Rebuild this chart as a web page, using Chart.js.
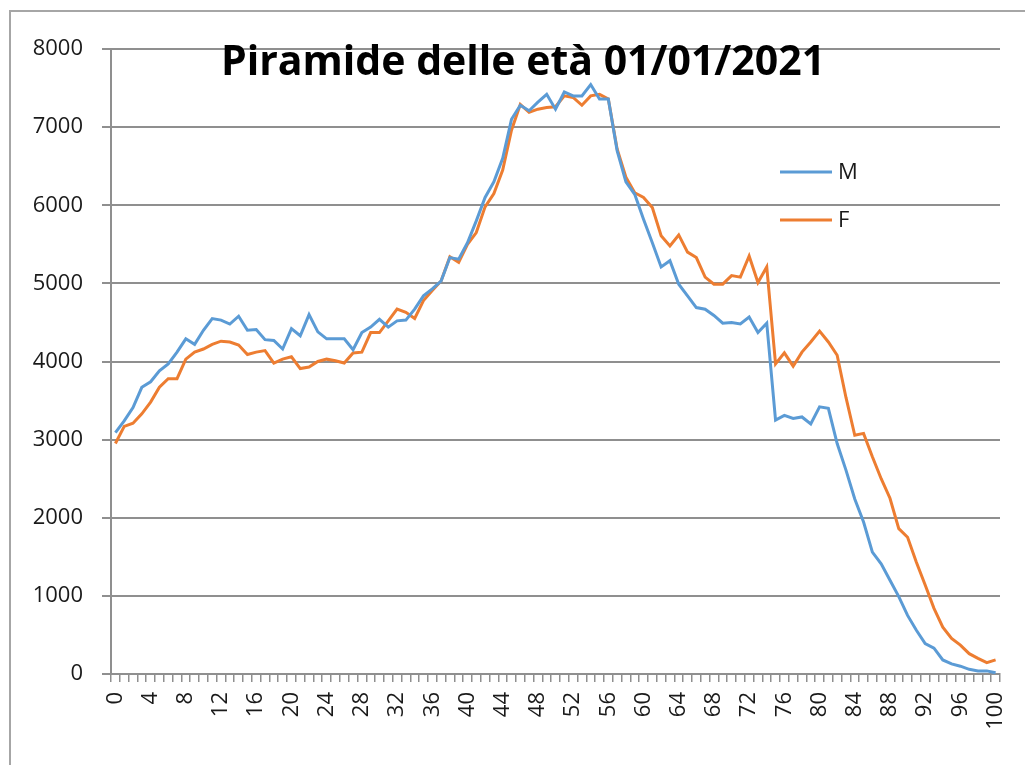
<!DOCTYPE html>
<html>
<head>
<meta charset="utf-8">
<script src="https://cdn.jsdelivr.net/npm/chart.js@4.4.1/dist/chart.umd.min.js"></script>
<style>
  html, body { margin: 0; padding: 0; background: #fff; overflow: hidden; }
  #wrap { position: relative; width: 1025px; height: 765px; }
  #frame { position: absolute; left: 9px; top: 10px; width: 1200px; height: 900px; border: 2px solid #a6a6a6; box-sizing: border-box; }
  canvas { position: absolute; left: 0; top: 0; }
</style>
</head>
<body>
<div id="wrap">
  <div id="frame"></div>
  <canvas id="c" width="1025" height="765"></canvas>
</div>
<script>
const chartTitle = "Piramide delle età 01/01/2021";
const ages = Array.from({length: 101}, (_, i) => String(i));
const seriesNames = ["M", "F"];
const maschi = [
  3090, 3240, 3410, 3670, 3740, 3880, 3970, 4120, 4290, 4220,
  4400, 4550, 4530, 4480, 4580, 4400, 4410, 4280, 4270, 4160,
  4420, 4330, 4600, 4380, 4290, 4290, 4290, 4150, 4370, 4440,
  4540, 4440, 4520, 4530, 4670, 4840, 4930, 5030, 5330, 5310,
  5520, 5800, 6100, 6300, 6600, 7100, 7280, 7210, 7320, 7420,
  7230, 7450, 7400, 7400, 7545, 7360, 7360, 6700, 6300, 6140,
  5820, 5520, 5210, 5290, 4990, 4840, 4690, 4670, 4590, 4490,
  4500, 4480, 4570, 4370, 4490, 3250, 3310, 3270, 3290, 3200,
  3420, 3400, 2950, 2610, 2240, 1945, 1560, 1410, 1200, 990,
  750, 560, 390, 330, 180, 130, 100, 60, 40, 40,
  15
];
const femmine = [
  2950, 3170, 3210, 3330, 3480, 3670, 3780, 3780, 4030, 4120,
  4160, 4220, 4260, 4250, 4210, 4090, 4120, 4140, 3980, 4030,
  4060, 3910, 3930, 4000, 4030, 4010, 3980, 4110, 4120, 4370,
  4370, 4520, 4670, 4630, 4550, 4780, 4910, 5030, 5340, 5270,
  5500, 5650, 5980, 6150, 6450, 6960, 7290, 7190, 7230, 7250,
  7260, 7400, 7380, 7280, 7400, 7420, 7360, 6720, 6360, 6160,
  6100, 5970, 5610, 5480, 5620, 5400, 5330, 5080, 4990, 4990,
  5100, 5080, 5350, 5010, 5210, 3970, 4110, 3940, 4120, 4250,
  4390, 4250, 4080, 3540, 3055, 3080, 2780, 2500, 2250, 1860,
  1750, 1430, 1140, 840, 600, 455, 370, 260, 200, 145,
  180
];
const yMin = 0, yMax = 8000, yStep = 1000;
const labelEvery = 4;

const colorM = "#5B9BD5";
const colorF = "#ED7D31";
const gridColor = "#8f8f8f";
const textColor = "#1a1a1a";
const fontFamily = "'Open Sans', 'Liberation Sans', sans-serif";

const overlayPlugin = {
  id: "overlay",
  afterDraw(chart) {
    const ctx = chart.ctx;
    const area = chart.chartArea;
    ctx.save();
    // Title
    ctx.fillStyle = "#000";
    ctx.font = "bold 41px " + fontFamily;
    ctx.textAlign = "center";
    ctx.textBaseline = "alphabetic";
    ctx.fillText(chartTitle, 523, 75);
    // Legend (inside plot, right)
    const lx = area.right - 220, ly = 172, gap = 48;
    chart.data.datasets.forEach((ds, i) => {
      const y = ly + i * gap;
      ctx.strokeStyle = ds.borderColor;
      ctx.lineWidth = 3;
      ctx.beginPath();
      ctx.moveTo(lx, y);
      ctx.lineTo(lx + 52, y);
      ctx.stroke();
      ctx.fillStyle = textColor;
      ctx.font = "22px " + fontFamily;
      ctx.textAlign = "left";
      ctx.textBaseline = "middle";
      ctx.fillText(ds.label, lx + 58, y + 1);
    });
    ctx.restore();
  }
};

new Chart(document.getElementById("c"), {
  type: "line",
  data: {
    labels: ages,
    datasets: [
      { label: seriesNames[0], data: maschi, borderColor: colorM, backgroundColor: colorM, borderWidth: 3, pointRadius: 0, tension: 0, fill: false },
      { label: seriesNames[1], data: femmine, borderColor: colorF, backgroundColor: colorF, borderWidth: 3, pointRadius: 0, tension: 0, fill: false }
    ]
  },
  options: {
    responsive: false,
    animation: false,
    devicePixelRatio: 1,
    layout: { padding: { left: 0, top: 49, right: 25, bottom: 0 } },
    plugins: {
      legend: { display: false },
      title: { display: false },
      tooltip: { enabled: false }
    },
    scales: {
      x: {
        type: "category",
        offset: true,
        afterFit(scale) { scale.height = 91; scale.paddingLeft = 0; scale.paddingRight = 0; },
        grid: { offset: true, drawOnChartArea: false, drawTicks: true, tickLength: 8, color: gridColor, lineWidth: 1.5 },
        border: { display: true, color: gridColor, width: 2 },
        ticks: {
          autoSkip: false,
          maxRotation: 90,
          minRotation: 90,
          padding: 10,
          color: textColor,
          font: { family: fontFamily, size: 22 },
          callback(value, index) { return index % labelEvery === 0 ? ages[index] : ""; }
        }
      },
      y: {
        min: yMin,
        max: yMax,
        afterFit(scale) { scale.width = 111; },
        grid: { color: gridColor, lineWidth: 2, tickLength: 9, drawTicks: true },
        border: { display: true, color: gridColor, width: 2 },
        ticks: {
          stepSize: yStep,
          padding: 19,
          color: textColor,
          font: { family: fontFamily, size: 22 },
          callback(value) { return String(value); }
        }
      }
    }
  },
  plugins: [overlayPlugin]
});
</script>
</body>
</html>
